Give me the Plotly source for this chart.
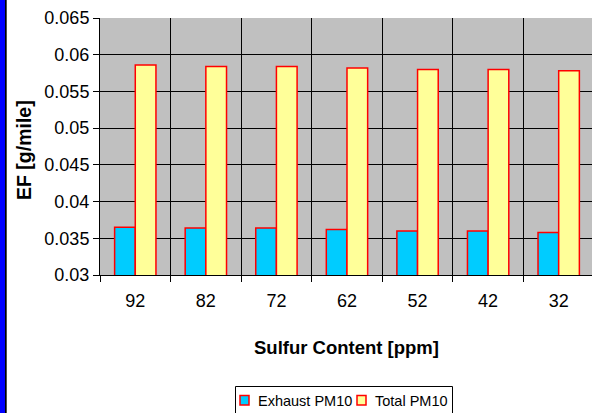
import plotly.graph_objects as go

# Sulfur content categories and emission factors (g/mile)
sulfur_ppm = ["92", "82", "72", "62", "52", "42", "32"]
exhaust_pm10 = [0.0365, 0.0364, 0.0364, 0.0362, 0.0360, 0.0360, 0.0358]
total_pm10 = [0.0586, 0.0584, 0.0584, 0.0582, 0.0580, 0.0580, 0.0578]
y_ticks = [0.03, 0.035, 0.04, 0.045, 0.05, 0.055, 0.06, 0.065]
y_tick_text = ["0.03", "0.035", "0.04", "0.045", "0.05", "0.055", "0.06", "0.065"]
series_names = ["Exhaust PM10", "Total PM10"]
series_colors = ["#00CCFF", "#FFFF99"]

FONT = "Liberation Sans, Arial, sans-serif"
outline = dict(color="#FF0000", width=1.5)

fig = go.Figure()
for name, vals, col in zip(series_names, [exhaust_pm10, total_pm10], series_colors):
    fig.add_trace(go.Bar(x=sulfur_ppm, y=vals, name=name,
                         marker=dict(color=col, line=outline)))

# plot area spans x 100..592 px, y 18..275 px
L, R, T, B, W, H = 100, 0, 18, 138, 592, 413
pw, ph = W - L - R, H - T - B

def px(x):
    return (x - L) / pw

def py(y):
    return (H - B - y) / ph

shapes = [
    # blue side strip with dark edge
    dict(type="rect", xref="paper", yref="paper", x0=px(0), x1=px(5), y0=py(H + 2), y1=py(-2),
         fillcolor="#0000FF", line=dict(width=0), layer="above"),
    dict(type="rect", xref="paper", yref="paper", x0=px(5), x1=px(6.7), y0=py(H + 2), y1=py(-2),
         fillcolor="black", line=dict(width=0), layer="above"),
    # legend frame
    dict(type="rect", xref="paper", yref="paper", x0=px(235.5), x1=px(452.5), y0=py(414), y1=py(386.5),
         fillcolor="white", line=dict(color="black", width=1), layer="above"),
]
annotations = [
    dict(text="<b>Sulfur Content [ppm]</b>", xref="paper", yref="paper", x=px(346), y=py(347),
         xanchor="center", yanchor="middle", showarrow=False, font=dict(size=18.5)),
    dict(text="<b>EF [g/mile]</b>", xref="paper", yref="paper", x=px(24), y=py(150),
         xanchor="center", yanchor="middle", textangle=-90, showarrow=False, font=dict(size=19.5)),
]
# legend entries: swatch + label
legend_items = [(240, 256), (357, 373)]
for (sx, tx), name, col in zip(legend_items, series_names, series_colors):
    shapes.append(dict(type="rect", xref="paper", yref="paper", x0=px(sx), x1=px(sx + 9),
                       y0=py(405), y1=py(395.5), fillcolor=col,
                       line=dict(color="#FF0000", width=1.5), layer="above"))
    annotations.append(dict(text=name, xref="paper", yref="paper", x=px(tx), y=py(400.5),
                            xanchor="left", yanchor="middle", showarrow=False,
                            font=dict(size=14.5)))

fig.update_layout(
    width=W, height=H,
    margin=dict(l=L, r=R, t=T, b=B, pad=0),
    paper_bgcolor="white",
    plot_bgcolor="#C0C0C0",
    barmode="group", bargap=0.414, bargroupgap=0,
    font=dict(family=FONT, size=18, color="black"),
    showlegend=False,
    xaxis=dict(type="category", tickson="boundaries", range=[-0.5, 6.472], automargin=False,
               showgrid=True, gridcolor="black", gridwidth=1,
               showline=True, linecolor="black", linewidth=1,
               ticks="outside", ticklen=6, tickcolor="black", ticklabelstandoff=9,
               tickfont=dict(size=18)),
    yaxis=dict(range=[0.03, 0.065], tickvals=y_ticks, ticktext=y_tick_text, automargin=False,
               showgrid=True, gridcolor="black", gridwidth=1,
               showline=True, linecolor="black", linewidth=1,
               ticks="outside", ticklen=6, tickcolor="black",
               tickfont=dict(size=18), zeroline=False),
    shapes=shapes,
    annotations=annotations,
)

fig.write_html("out.html")
